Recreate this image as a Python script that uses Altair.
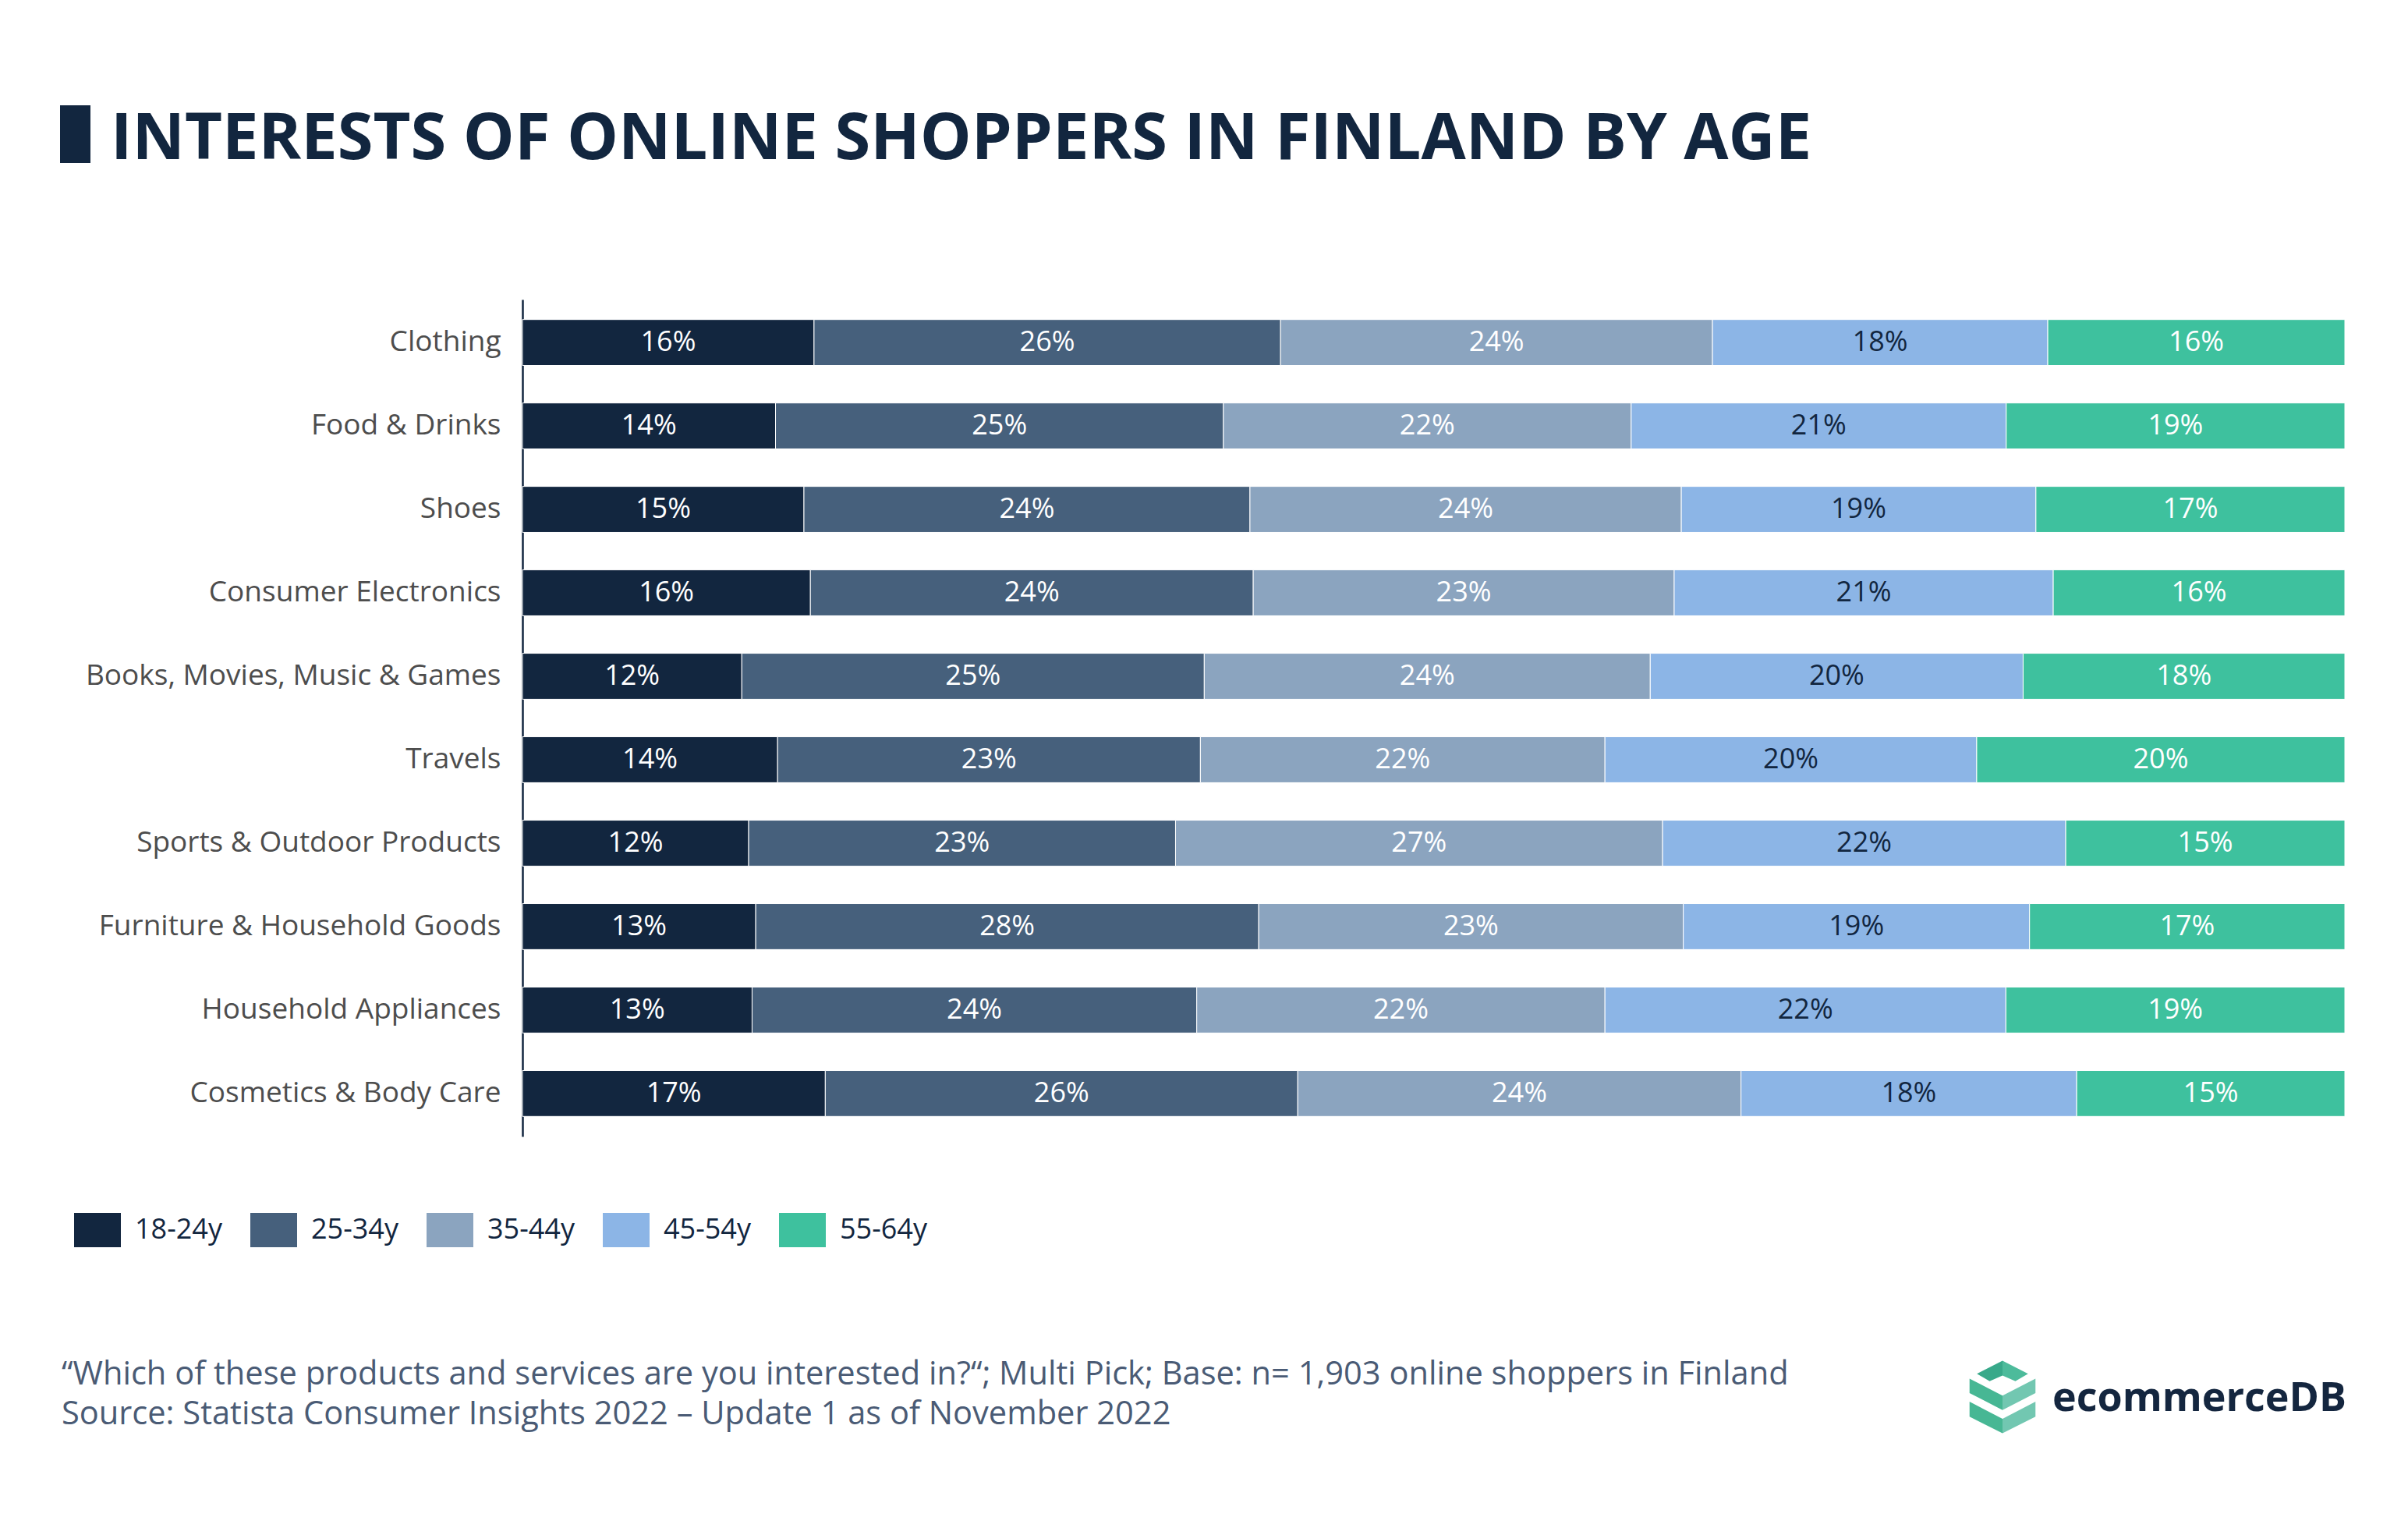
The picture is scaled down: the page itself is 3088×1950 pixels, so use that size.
import altair as alt
import pandas as pd

categories = ["Clothing", "Food & Drinks", "Shoes", "Consumer Electronics",
              "Books, Movies, Music & Games", "Travels", "Sports & Outdoor Products",
              "Furniture & Household Goods", "Household Appliances", "Cosmetics & Body Care"]
ages = ["18-24y", "25-34y", "35-44y", "45-54y", "55-64y"]
v18_24 = [16.0, 13.9, 15.4, 15.8, 12.0, 14.0, 12.4, 12.8, 12.6, 16.6]
v25_34 = [25.6, 24.6, 24.4, 24.3, 25.3, 23.2, 23.4, 27.6, 24.4, 25.9]
v35_44 = [23.7, 22.4, 23.6, 23.1, 24.4, 22.2, 26.7, 23.3, 22.4, 24.3]
v45_54 = [18.4, 20.6, 19.4, 20.8, 20.4, 20.4, 22.1, 19.0, 22.0, 18.4]
v55_64 = [16.3, 18.6, 16.9, 16.0, 17.6, 20.2, 15.3, 17.3, 18.6, 14.7]
colors = ["#12263f", "#46607c", "#8ba4bf", "#8cb5e6", "#3ec19e"]

title_text = "INTERESTS OF ONLINE SHOPPERS IN FINLAND BY AGE"
note_text = "\u201cWhich of these products and services are you interested in?\u201c; Multi Pick; Base: n= 1,903 online shoppers in Finland"
source_text = "Source: Statista Consumer Insights 2022 \u2013 Update 1 as of November 2022"
brand_text = "ecommerceDB"

series = [v18_24, v25_34, v35_44, v45_54, v55_64]
rows = []
for ai, (age, vals) in enumerate(zip(ages, series)):
    for ci, cat in enumerate(categories):
        rows.append({"category": cat, "age": age, "idx": ai, "value": vals[ci]})
df = pd.DataFrame(rows)

FONT = "Open Sans"
W, H = 2337, 1073

base = alt.Chart(df)

bars = base.mark_bar(stroke="white", strokeWidth=1).encode(
    y=alt.Y("category:N", sort=categories,
            scale=alt.Scale(paddingInner=0.45, paddingOuter=0.24),
            axis=alt.Axis(title=None, labelFont=FONT, labelFontSize=37, labelColor="#4d4d4d",
                          labelPadding=28, ticks=False, domainColor="#12263f", domainWidth=2.5,
                          labelLimit=1000, grid=False)),
    x=alt.X("value:Q", stack="normalize", axis=None,
            scale=alt.Scale(domain=[0, 1], nice=False, zero=True)),
    color=alt.Color("age:N", scale=alt.Scale(domain=ages, range=colors),
                    legend=alt.Legend(orient="none", legendX=-575, legendY=1163,
                                      direction="horizontal", title=None,
                                      symbolType="M-1,-0.733 H1 V0.733 H-1 Z",
                                      symbolSize=3600, symbolStrokeWidth=0, symbolOpacity=1,
                                      labelFont=FONT, labelFontSize=36, labelColor="#12263f",
                                      labelOffset=18, columnPadding=36, padding=0)),
    order=alt.Order("idx:Q"),
)

labels = base.transform_joinaggregate(
    total="sum(value)", groupby=["category"]
).transform_window(
    cum="sum(value)", sort=[alt.SortField("idx")], groupby=["category"], frame=[None, 0]
).transform_calculate(
    mid="(datum.cum - datum.value/2)/datum.total",
    label="format(datum.value, '.0f') + '%'"
).mark_text(font=FONT, fontSize=36, baseline="middle", align="center").encode(
    y=alt.Y("category:N", sort=categories),
    x=alt.X("mid:Q"),
    text="label:N",
    color=alt.condition(alt.datum.age == "45-54y", alt.value("#12263f"), alt.value("white")),
)

one = alt.Data(values=[{"a": 1}])

title_bar = alt.Chart(one).mark_rect(color="#12263f").encode(
    x=alt.value(-593), x2=alt.value(-554), y=alt.value(-249), y2=alt.value(-175))
title = alt.Chart(pd.DataFrame({"t": [title_text]})).mark_text(
    font=FONT, fontWeight="bold", fontSize=83, color="#12263f", align="left",
    baseline="alphabetic").encode(x=alt.value(-528), y=alt.value(-180), text="t:N")

note = alt.Chart(pd.DataFrame({"t": [note_text]})).mark_text(
    font=FONT, fontSize=41.6, color="#4a5b75", align="left", baseline="alphabetic"
).encode(x=alt.value(-591), y=alt.value(1391), text="t:N")
source = alt.Chart(pd.DataFrame({"t": [source_text]})).mark_text(
    font=FONT, fontSize=41.6, color="#4a5b75", align="left", baseline="alphabetic"
).encode(x=alt.value(-591), y=alt.value(1442), text="t:N")

brand = alt.Chart(pd.DataFrame({"t": [brand_text]})).mark_text(
    font=FONT, fontWeight="bold", fontSize=52, color="#14263f", align="right",
    baseline="alphabetic").encode(x=alt.value(2339), y=alt.value(1425), text="t:N")

icon_parts = [
    ("M-0.705,-0.638 L0,-1 L0,-0.594 L-0.355,-0.435 Z", "#38a98a"),
    ("M0.705,-0.638 L0,-1 L0,-0.594 L0.355,-0.435 Z", "#4dbb9b"),
    ("M-0.909,-0.507 L0,-0.036 L0,0.362 L-0.909,-0.109 Z M-0.909,0.13 L0,0.6 L0,1 L-0.909,0.543 Z", "#47b794"),
    ("M0.909,-0.507 L0,-0.036 L0,0.362 L0.909,-0.109 Z M0.909,0.13 L0,0.6 L0,1 L0.909,0.543 Z", "#72c7b1"),
]
icons = []
for path, col in icon_parts:
    icons.append(alt.Chart(one).mark_point(shape=path, filled=True, color=col, opacity=1,
                                           size=8650, strokeWidth=0).encode(
        x=alt.value(1898), y=alt.value(1407)))

chart = alt.layer(bars, labels, title_bar, title, note, source, brand, *icons).properties(
    width=W, height=H,
    autosize=alt.AutoSizeParams(type="none"),
    padding={"left": 662, "top": 376, "right": 60, "bottom": 450},
    background="white",
).configure_view(stroke=None)

chart.save("out.html", embed_options={"renderer": "svg", "actions": False})
